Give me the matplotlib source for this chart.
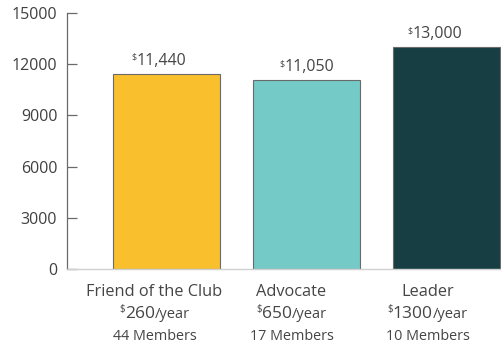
"""Membership tiers: annual total raised per tier, with price and member count."""

import matplotlib
matplotlib.use("Agg")
import matplotlib.pyplot as plt

tiers = ["Friend of the Club", "Advocate", "Leader"]
totals = [11440, 11050, 13000]
prices = [260, 650, 1300]
members = [44, 17, 10]
colors = ["#F9BF2C", "#73CAC6", "#163E43"]
yticks = [0, 3000, 6000, 9000, 12000, 15000]

GREY = "#454545"
# labels in the original sit a little left of the bar centres (pixels)
VALUE_SHIFT = [-8, 0, -12]
LABEL_SHIFT = [-12, -15, -19]

plt.rcParams["font.family"] = ["Open Sans", "DejaVu Sans"]

fig = plt.figure(figsize=(5.02, 3.45), dpi=100)
ax = fig.add_axes([67 / 502, 76 / 345, 435 / 502, 256 / 345])

x = list(range(len(tiers)))
ax.bar(x, totals, width=0.764, color=colors, edgecolor="#6a6a6a", linewidth=0.8)
ax.set_xlim(-0.711, 2.396)
ax.set_ylim(0, 15000)
ax.set_yticks(yticks)
ax.set_yticklabels([str(v) for v in yticks])
ax.set_xticks([])

ax.tick_params(axis="y", direction="in", length=7, width=0.9, color="#6a6a6a",
               labelsize=11.5, labelcolor="#404040", pad=7)
for side in ("top", "right"):
    ax.spines[side].set_visible(False)
ax.spines["left"].set_color("#6a6a6a")
ax.spines["left"].set_linewidth(0.9)
ax.spines["bottom"].set_color("#d0d0d0")
ax.spines["bottom"].set_linewidth(1.0)

renderer = fig.canvas.get_renderer()


def seq_text(xy, xycoords, dx, dy, pieces):
    """Place text pieces (text, size, rise_px) side by side, centred on xy."""
    arts, widths = [], []
    for s, size, rise in pieces:
        t = ax.annotate(s, xy, xycoords=xycoords, textcoords="offset pixels",
                        xytext=(0, 0), fontsize=size, color=GREY,
                        ha="left", va="baseline", annotation_clip=False)
        arts.append((t, rise))
        widths.append(t.get_window_extent(renderer).width)
    x0 = dx - sum(widths) / 2
    for (t, rise), w in zip(arts, widths):
        t.xyann = (x0, dy + rise)
        x0 += w


base = ("data", "axes fraction")
for i in x:
    # value label above the bar
    seq_text((i, totals[i]), "data", VALUE_SHIFT[i], 9,
             [("$", 6.5, 5), (f"{totals[i]:,}", 11.5, 0)])
    # tier name / price / members below the axis
    dx = LABEL_SHIFT[i]
    seq_text((i, 0), base, dx, -27, [(tiers[i], 11.8, 0)])
    seq_text((i, 0), base, dx, -49,
             [("$", 7, 6), (str(prices[i]), 12.5, 0), ("/year", 10.5, 0)])
    seq_text((i, 0), base, dx, -71, [(f"{members[i]} Members", 10.4, 0)])

fig.savefig("out.png", dpi=100)
